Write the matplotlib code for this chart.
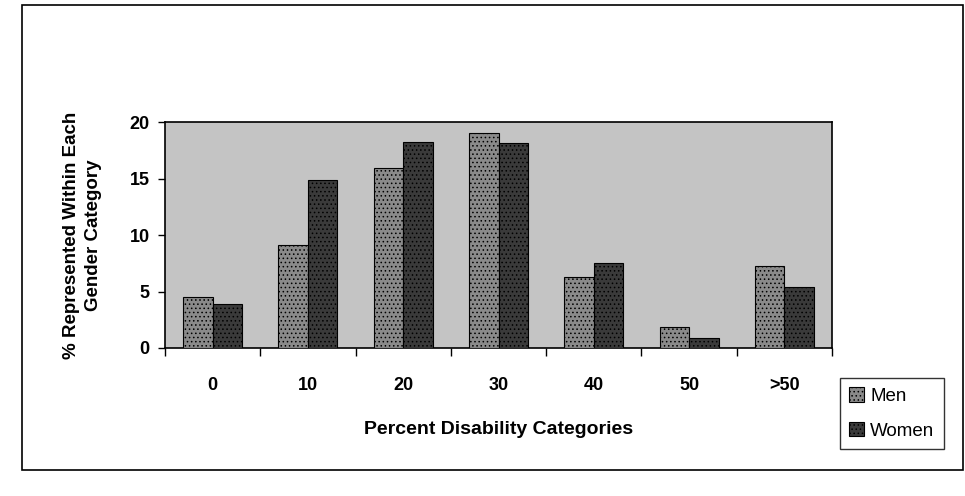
import numpy as np
import matplotlib
matplotlib.use("Agg")
import matplotlib.pyplot as plt
from matplotlib.patches import Rectangle

# Values
categories = ["0", "10", "20", "30", "40", "50", ">50"]
men = [4.5, 9.1, 15.9, 19.0, 6.3, 1.9, 7.3]
women = [3.9, 14.9, 18.2, 18.1, 7.5, 0.9, 5.4]
y_ticks = [0, 5, 10, 15, 20]

plt.rcParams["font.family"] = ["Liberation Sans", "DejaVu Sans"]
plt.rcParams["hatch.linewidth"] = 0.6

BG = "#c4c4c4"
MEN_C = "#8a8a8a"
WOMEN_C = "#3a3a3a"

fig = plt.figure(figsize=(9.65, 4.96), dpi=100)
# outer frame around the whole chart
fig.patches.append(Rectangle((22 / 965, 1 - 470 / 496), 941 / 965, 465 / 496,
                             transform=fig.transFigure, fill=False,
                             edgecolor="black", lw=1.2))

ax = fig.add_axes([165 / 965, 1 - 348 / 496, 667 / 965, 226 / 496])
ax.set_facecolor(BG)

x = np.arange(len(categories))
w = 0.31
ax.bar(x - w / 2, men, w, color=MEN_C, edgecolor="black", lw=0.8,
       hatch="....", label="Men", zorder=3)
ax.bar(x + w / 2, women, w, color=WOMEN_C, edgecolor="black", lw=0.8,
       hatch="....", label="Women", zorder=3)

ax.set_xlim(-0.5, len(categories) - 0.5)
ax.set_ylim(0, 20)
ax.set_yticks(y_ticks)
ax.set_yticklabels([str(t) for t in y_ticks], fontsize=13, fontweight="bold")

# category labels centred, tick marks between categories
ax.set_xticks(np.arange(len(categories) + 1) - 0.5)
ax.set_xticklabels([])
ax.set_xticks(x, minor=True)
ax.set_xticklabels(categories, minor=True, fontsize=13, fontweight="bold")
ax.tick_params(axis="x", which="minor", length=0, pad=21)
ax.tick_params(axis="x", which="major", direction="out", length=6, width=1)
ax.tick_params(axis="y", direction="out", length=5, width=1, pad=6)

for side in ax.spines.values():
    side.set_linewidth(1.2)

ax.set_xlabel("Percent Disability Categories", fontsize=14, fontweight="bold",
              labelpad=19)
ax.set_ylabel("% Represented Within Each\nGender Category", fontsize=13.5,
              fontweight="bold", labelpad=20, linespacing=1.4)

leg = fig.legend(loc="upper left", bbox_to_anchor=(840 / 965, 1 - 378 / 496),
                 fontsize=13.5, frameon=True, fancybox=False, edgecolor="black",
                 handlelength=0.8, handleheight=0.8, handletextpad=0.3,
                 borderpad=0.5, labelspacing=0.9, borderaxespad=0)
leg.get_frame().set_linewidth(1.0)

fig.savefig("out.png", dpi=100)
